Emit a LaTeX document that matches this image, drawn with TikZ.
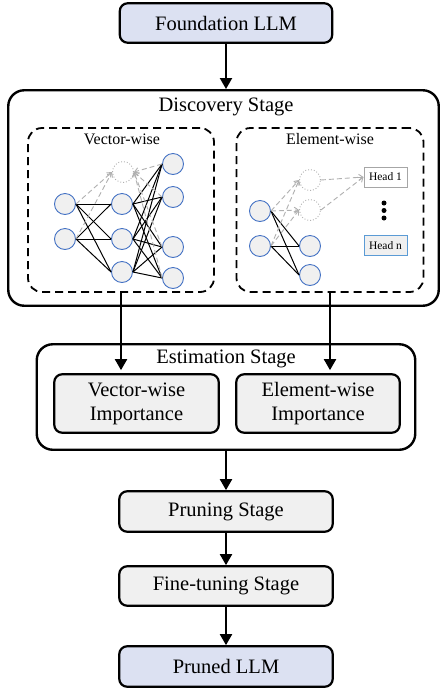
\documentclass[tikz,border=0pt]{standalone}
\usepackage{fontspec}
\setmainfont{Liberation Serif}
\usetikzlibrary{arrows.meta}
\definecolor{lav}{HTML}{DCE1F2}
\definecolor{boxgray}{HTML}{F0F0F0}
\definecolor{nodeblue}{HTML}{4472C4}
\definecolor{headblue}{HTML}{5B9BD5}
\definecolor{ghostgray}{HTML}{B0B0B0}
\tikzset{
  bigtxt/.style={font=\fontsize{20.5}{24}\selectfont},
  stagebox/.style={draw, line width=2.2pt, rounded corners=8pt, inner sep=0pt, align=center, bigtxt},
  outerbox/.style={draw, line width=2.4pt, rounded corners=16pt, inner sep=0pt},
  dashbox/.style={draw, line width=1.8pt, dash pattern=on 8pt off 5pt, rounded corners=14pt, inner sep=0pt},
  neuron/.style={circle, draw=nodeblue, fill=boxgray, line width=0.9pt, minimum size=21pt, inner sep=0pt},
  ghost/.style={circle, draw=ghostgray, dotted, line width=0.9pt, minimum size=21pt, inner sep=0pt},
  link/.style={line width=1pt},
  glink/.style={ghostgray, line width=0.9pt, dash pattern=on 5pt off 3pt, -{Straight Barb[length=4pt,width=6pt]}},
  flow/.style={line width=2pt, -{Triangle[length=11pt,width=12pt]}},
  headbox/.style={draw, line width=1pt, minimum width=43pt, minimum height=20pt, inner sep=0pt, font=\fontsize{11.5}{13}\selectfont},
  dotn/.style={circle, fill=black, minimum size=5pt, inner sep=0pt},
  subtitle/.style={font=\fontsize{16}{18}\selectfont, inner sep=0pt},
}
\begin{document}
\begin{tikzpicture}[x=1pt,y=-1pt]
\useasboundingbox (0,0) rectangle (442,689);

% top box
\node[stagebox, fill=lav, minimum width=212.5pt, minimum height=39.5pt] (found) at (226,23) {Foundation LLM};

% discovery stage
\node[outerbox, fill=white, minimum width=430.5pt, minimum height=215.5pt] (disc) at (223.5,198) {};
\node[bigtxt, inner sep=0pt] (disctitle) at (226,107) {Discovery Stage};

\node[dashbox, minimum width=186pt, minimum height=164pt] (vecbox) at (121,210) {};
\node[subtitle] (vectitle) at (122,139) {Vector-wise};
\node[dashbox, minimum width=187pt, minimum height=164pt] (elbox) at (330,210) {};
\node[subtitle] (eltitle) at (330,139) {Element-wise};

% vector-wise network
\node[neuron] (a1) at (65,204) {};
\node[neuron] (a2) at (65,239) {};
\node[neuron] (b1) at (122,204) {};
\node[neuron] (b2) at (122,239) {};
\node[neuron] (b3) at (122,272) {};
\node[ghost] (gv) at (123,172) {};
\node[neuron] (c1) at (173,164) {};
\node[neuron] (c2) at (173,197) {};
\node[neuron] (c3) at (173,247) {};
\node[neuron] (c4) at (173,278) {};

\foreach \i in {a1,a2}
  \foreach \j in {b1,b2,b3}
    \draw[link] (\i.east) -- (\j.west);
\foreach \i in {b1,b2,b3}
  \foreach \j in {c1,c2,c3,c4}
    \draw[link] (\i.east) -- (\j.west);
\foreach \i in {a1,a2}
  \draw[glink] (\i.east) -- (gv.west);
\foreach \j in {c1,c2,c3,c4}
  \draw[glink] (\j.west) -- (gv.east);

% element-wise network
\node[neuron] (e1) at (260,211) {};
\node[neuron] (e2) at (260,246) {};
\node[ghost] (g1) at (310,180) {};
\node[ghost] (g2) at (310,210) {};
\node[neuron] (o1) at (310,246) {};
\node[neuron] (o2) at (310,275) {};
\node[headbox, draw=gray!70] (h1) at (385.5,177) {Head 1};
\node[headbox, draw=headblue, fill=boxgray] (hn) at (385.5,245.5) {Head n};
\node[dotn] (d1) at (384,203) {};
\node[dotn] (d2) at (384,210.5) {};
\node[dotn] (d3) at (384,218) {};

\foreach \i in {e1,e2}
  \foreach \j in {o1,o2}
    \draw[link] (\i.east) -- (\j.west);
\foreach \i in {e1,e2}
  \foreach \j in {g1,g2}
    \draw[glink] (\i.east) -- (\j.west);
\draw[glink] (g1.east) -- (h1.west);
\draw[glink] (g2.east) -- (h1.west);

% estimation stage
\node[outerbox, minimum width=378.5pt, minimum height=105.5pt] (est) at (226,397) {};
\node[bigtxt, inner sep=0pt] (esttitle) at (226,359) {Estimation Stage};
\node[stagebox, fill=boxgray, minimum width=164.5pt, minimum height=58.5pt] (vwimp) at (136.5,403.5) {Vector-wise\\Importance};
\node[stagebox, fill=boxgray, minimum width=163.5pt, minimum height=58.5pt] (ewimp) at (318,403.5) {Element-wise\\Importance};

% lower chain
\node[stagebox, fill=boxgray, minimum width=213.5pt, minimum height=40.5pt] (prune) at (226,511.5) {Pruning Stage};
\node[stagebox, fill=boxgray, minimum width=213.5pt, minimum height=39.5pt] (fine) at (226,586) {Fine-tuning Stage};
\node[stagebox, fill=lav, minimum width=213.5pt, minimum height=40.5pt] (pruned) at (226,666.5) {Pruned LLM};

% flow arrows
\draw[flow] (found.south) -- (disc.north -| found.south);
\draw[flow] (vecbox.south) -- ([yshift=3pt]vecbox.south |- vwimp.north);
\draw[flow] (elbox.south) -- ([yshift=3pt]elbox.south |- ewimp.north);
\draw[flow] (est.south) -- (prune.north);
\draw[flow] (prune.south) -- (fine.north);
\draw[flow] (fine.south) -- (pruned.north);
\end{tikzpicture}
\end{document}
